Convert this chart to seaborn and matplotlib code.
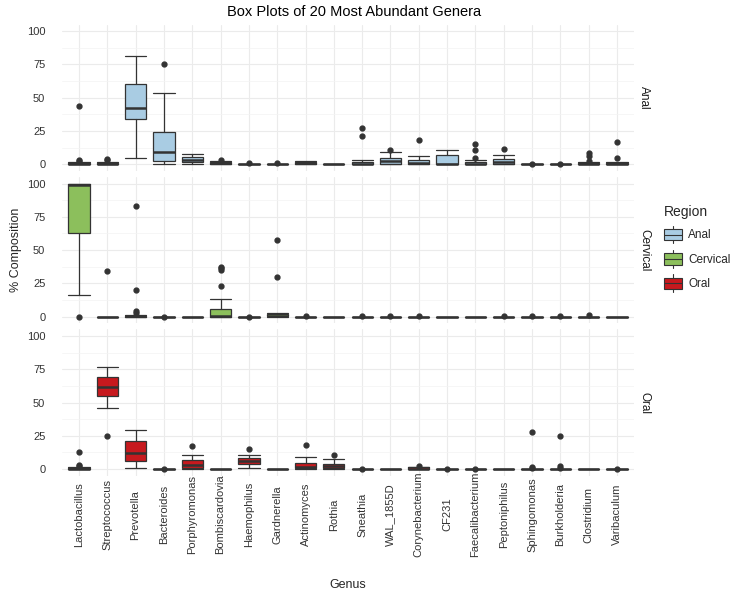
import numpy as np
import pandas as pd
import matplotlib
matplotlib.use('Agg')
import matplotlib.pyplot as plt
import seaborn as sns
from matplotlib.patches import Rectangle, Patch
from matplotlib.lines import Line2D
from matplotlib.legend_handler import HandlerBase
from matplotlib.ticker import MultipleLocator

# ==================== 数据 ====================
genera = ['Lactobacillus', 'Streptococcus', 'Prevotella', 'Bacteroides', 'Porphyromonas',
          'Bombiscardovia', 'Haemophilus', 'Gardnerella', 'Actinomyces', 'Rothia',
          'Sneathia', 'WAL_1855D', 'Corynebacterium', 'CF231', 'Faecalibacterium',
          'Peptoniphilus', 'Sphingomonas', 'Burkholderia', 'Clostridium', 'Varibaculum']
regions = ['Anal', 'Cervical', 'Oral']
region_colors = {'Anal': '#A9CCE3', 'Cervical': '#8CBF5C', 'Oral': '#C7191E'}

# Anal (lower whisker, Q1, median, Q3, upper whisker, outliers)
anal_low = [0, 0, 5, 0.5, 0, 0, 0, 0, 0, 0, 0, 0, 0, 0, 0, 0, 0, 0, 0, 0]
anal_q1 = [0, 0, 34, 2.5, 1.5, 0.2, 0, 0, 0.5, 0, 0, 0.5, 0.3, 0, 0, 0.5, 0, 0, 0, 0]
anal_med = [0.2, 0.3, 42.5, 9.5, 3.5, 0.6, 0, 0, 1.2, 0, 0.5, 2.5, 1.0, 0.5, 0.5, 1.5, 0, 0, 0.3, 0.3]
anal_q3 = [0.8, 1.0, 60.5, 24.5, 5.5, 1.5, 0.3, 0.3, 2.0, 0.1, 2.0, 5.0, 3.0, 7.0, 1.8, 4.0, 0, 0, 1.0, 1.0]
anal_high = [1.5, 2.0, 81.5, 53.5, 8.0, 2.5, 0.5, 0.5, 2.5, 0.2, 3.5, 9.0, 6.5, 11.0, 3.0, 7.0, 0, 0, 1.8, 1.8]
anal_out = [[2.5, 3.5, 43.5], [3, 4], [], [75.5], [], [3.5], [0.8], [0.8], [], [],
            [21.5, 27], [11], [18.5], [], [5, 10.5, 15.5], [11.5], [0.3], [0.2], [2.5, 6.5, 8.5], [5, 16.5]]

# Cervical
cerv_low = [16, 0, 0, 0, 0, 0, 0, 0, 0, 0, 0, 0, 0, 0, 0, 0, 0, 0, 0, 0]
cerv_q1 = [62.5, 0, 0, 0, 0, 0, 0, 0.2, 0, 0, 0, 0, 0, 0, 0, 0, 0, 0, 0, 0]
cerv_med = [99, 0, 0.2, 0, 0, 0.5, 0, 0.8, 0, 0, 0, 0, 0, 0, 0, 0, 0, 0, 0, 0]
cerv_q3 = [100, 0, 0.8, 0, 0, 5.5, 0, 2.0, 0, 0, 0, 0, 0, 0, 0, 0, 0, 0, 0, 0]
cerv_high = [100, 0, 1.5, 0, 0, 13, 0, 3.0, 0, 0, 0, 0, 0, 0, 0, 0, 0, 0, 0, 0]
cerv_out = [[0], [34.5], [2.8, 4.2, 20, 83], [0.1], [], [23, 34.8, 36.3, 37.5], [0.1], [29.8, 57.4],
            [0.2], [], [0.5], [0.2], [0.2], [], [], [0.2], [0.3], [0.4], [1.0], []]

# Oral
oral_low = [0, 45.8, 1, 0, 0, 0, 0.5, 0, 0, 0, 0, 0, 0, 0, 0, 0, 0, 0, 0, 0]
oral_q1 = [0, 54.7, 5.7, 0, 1, 0, 3.5, 0, 0.5, 0.5, 0, 0, 0, 0, 0, 0, 0, 0, 0, 0]
oral_med = [0.2, 61.5, 11.7, 0, 3, 0, 5.8, 0, 1.8, 2, 0, 0, 0.3, 0, 0, 0, 0, 0, 0, 0]
oral_q3 = [0.8, 69.5, 21, 0, 6.5, 0, 8, 0, 4.5, 4, 0, 0, 1.2, 0, 0, 0, 0, 0, 0, 0]
oral_high = [1.5, 77, 29.3, 0, 10.7, 0, 10.7, 0, 9.2, 7.2, 0, 0, 1.8, 0, 0, 0, 0, 0, 0, 0]
oral_out = [[2, 3, 13], [25], [], [0.2], [17.4], [], [14.9], [], [18], [10.7],
            [0.2], [], [2.5], [0.1], [0.1], [], [0.5, 1.7, 28], [0.5, 2.5, 24.8], [], [0.2]]

# ==================== 整理成表 ====================
region_arrays = {
    'Anal': (anal_low, anal_q1, anal_med, anal_q3, anal_high, anal_out),
    'Cervical': (cerv_low, cerv_q1, cerv_med, cerv_q3, cerv_high, cerv_out),
    'Oral': (oral_low, oral_q1, oral_med, oral_q3, oral_high, oral_out),
}
rows = []
for region in regions:
    low, q1, med, q3, high, out = region_arrays[region]
    for i, genus in enumerate(genera):
        rows.append(dict(Region=region, Genus=genus, low=low[i], q1=q1[i], med=med[i],
                         q3=q3[i], high=high[i], outliers=out[i]))
df = pd.DataFrame(rows)

# ==================== 主题 ====================
sns.set_theme(style='whitegrid')
plt.rcParams['font.family'] = ['Liberation Sans', 'DejaVu Sans']
plt.rcParams['axes.edgecolor'] = 'none'

line_col = '#333333'


def draw_boxes(data, color=None, **kws):
    ax = plt.gca()
    fill = region_colors[data['Region'].iloc[0]]
    stats = [dict(whislo=r.low, q1=r.q1, med=r.med, q3=r.q3, whishi=r.high,
                  fliers=r.outliers, label=r.Genus) for r in data.itertuples()]
    pos = [genera.index(g) for g in data['Genus']]
    ax.bxp(stats, positions=pos, widths=0.75, capwidths=0.75, patch_artist=True,
           boxprops=dict(facecolor=fill, edgecolor=line_col, linewidth=0.9),
           medianprops=dict(color=line_col, linewidth=1.8),
           whiskerprops=dict(color=line_col, linewidth=0.9),
           capprops=dict(color=line_col, linewidth=0.9),
           flierprops=dict(marker='o', markerfacecolor=line_col, markeredgecolor=line_col,
                           markersize=3.5))


g = sns.FacetGrid(df, row='Region', row_order=regions, height=2, aspect=3.75,
                  sharex=True, sharey=True, despine=False)
g.map_dataframe(draw_boxes)
g.set_titles(template='')
g.set_axis_labels('', '')

fig = g.figure
fig.set_size_inches(7.5, 6)

for ax, region in zip(g.axes.flat, regions):
    ax.set_xlim(-0.6, len(genera) - 0.4)
    ax.set_ylim(-5, 105)
    ax.set_yticks([0, 25, 50, 75, 100])
    ax.set_yticklabels(['0', '25', '50', '75', '100'])
    ax.yaxis.set_minor_locator(MultipleLocator(12.5))
    ax.grid(which='major', color='#EBEBEB', linewidth=0.8)
    ax.grid(which='minor', axis='y', color='#F3F3F3', linewidth=0.5)
    ax.set_axisbelow(True)
    ax.set_facecolor('white')
    for s in ax.spines.values():
        s.set_visible(False)
    ax.tick_params(axis='both', which='both', length=0, labelsize=8, labelcolor='#333333')
    ax.tick_params(axis='y', pad=12)
    ax.text(1.0 + 10 / 572, 0.5, region, transform=ax.transAxes, rotation=270,
            ha='center', va='center', fontsize=8.5, color='#1A1A1A')

bottom_ax = g.axes.flat[-1]
bottom_ax.set_xticks(range(len(genera)))
bottom_ax.set_xticklabels(genera, rotation=90, va='center', ha='center')
bottom_ax.tick_params(axis='x', pad=28)

fig.subplots_adjust(left=62 / 750, right=634 / 750, top=1 - 24.5 / 600,
                    bottom=1 - 475.7 / 600, hspace=0.041)

fig.text(354 / 750, 1 - 12 / 600, 'Box Plots of 20 Most Abundant Genera',
         ha='center', va='center', fontsize=10.5, color='black')
fig.text(348 / 750, 1 - 585 / 600, 'Genus', ha='center', va='center', fontsize=9)
fig.text(16 / 750, 1 - 250 / 600, '% Composition', ha='center', va='center',
         rotation=90, fontsize=9)


# ==================== 图例 ====================
class BoxKeyHandler(HandlerBase):
    def create_artists(self, legend, orig_handle, xdescent, ydescent, width, height,
                       fontsize, trans):
        x0, y0 = -xdescent, -ydescent
        xm = x0 + width / 2
        whisk = Line2D([xm, xm], [y0, y0 + height], color=line_col, lw=0.8, transform=trans)
        box = Rectangle((x0, y0 + 0.18 * height), width, 0.64 * height,
                        facecolor=orig_handle.get_facecolor(), edgecolor=line_col,
                        lw=0.8, transform=trans)
        med = Line2D([x0, x0 + width], [y0 + height / 2] * 2, color=line_col, lw=0.8,
                     transform=trans)
        return [whisk, box, med]


handles = [Patch(facecolor=region_colors[r]) for r in regions]
fig.legend(handles, regions, title='Region', loc='upper left',
           bbox_to_anchor=(660 / 750, 1 - 201 / 600), frameon=False,
           handler_map={Patch: BoxKeyHandler()}, handlelength=1.5, handleheight=1.95,
           labelspacing=0.55, handletextpad=0.55, fontsize=8.5, title_fontsize=10,
           alignment='left', borderaxespad=0, borderpad=0.35)

fig.savefig('out.png', dpi=100)
